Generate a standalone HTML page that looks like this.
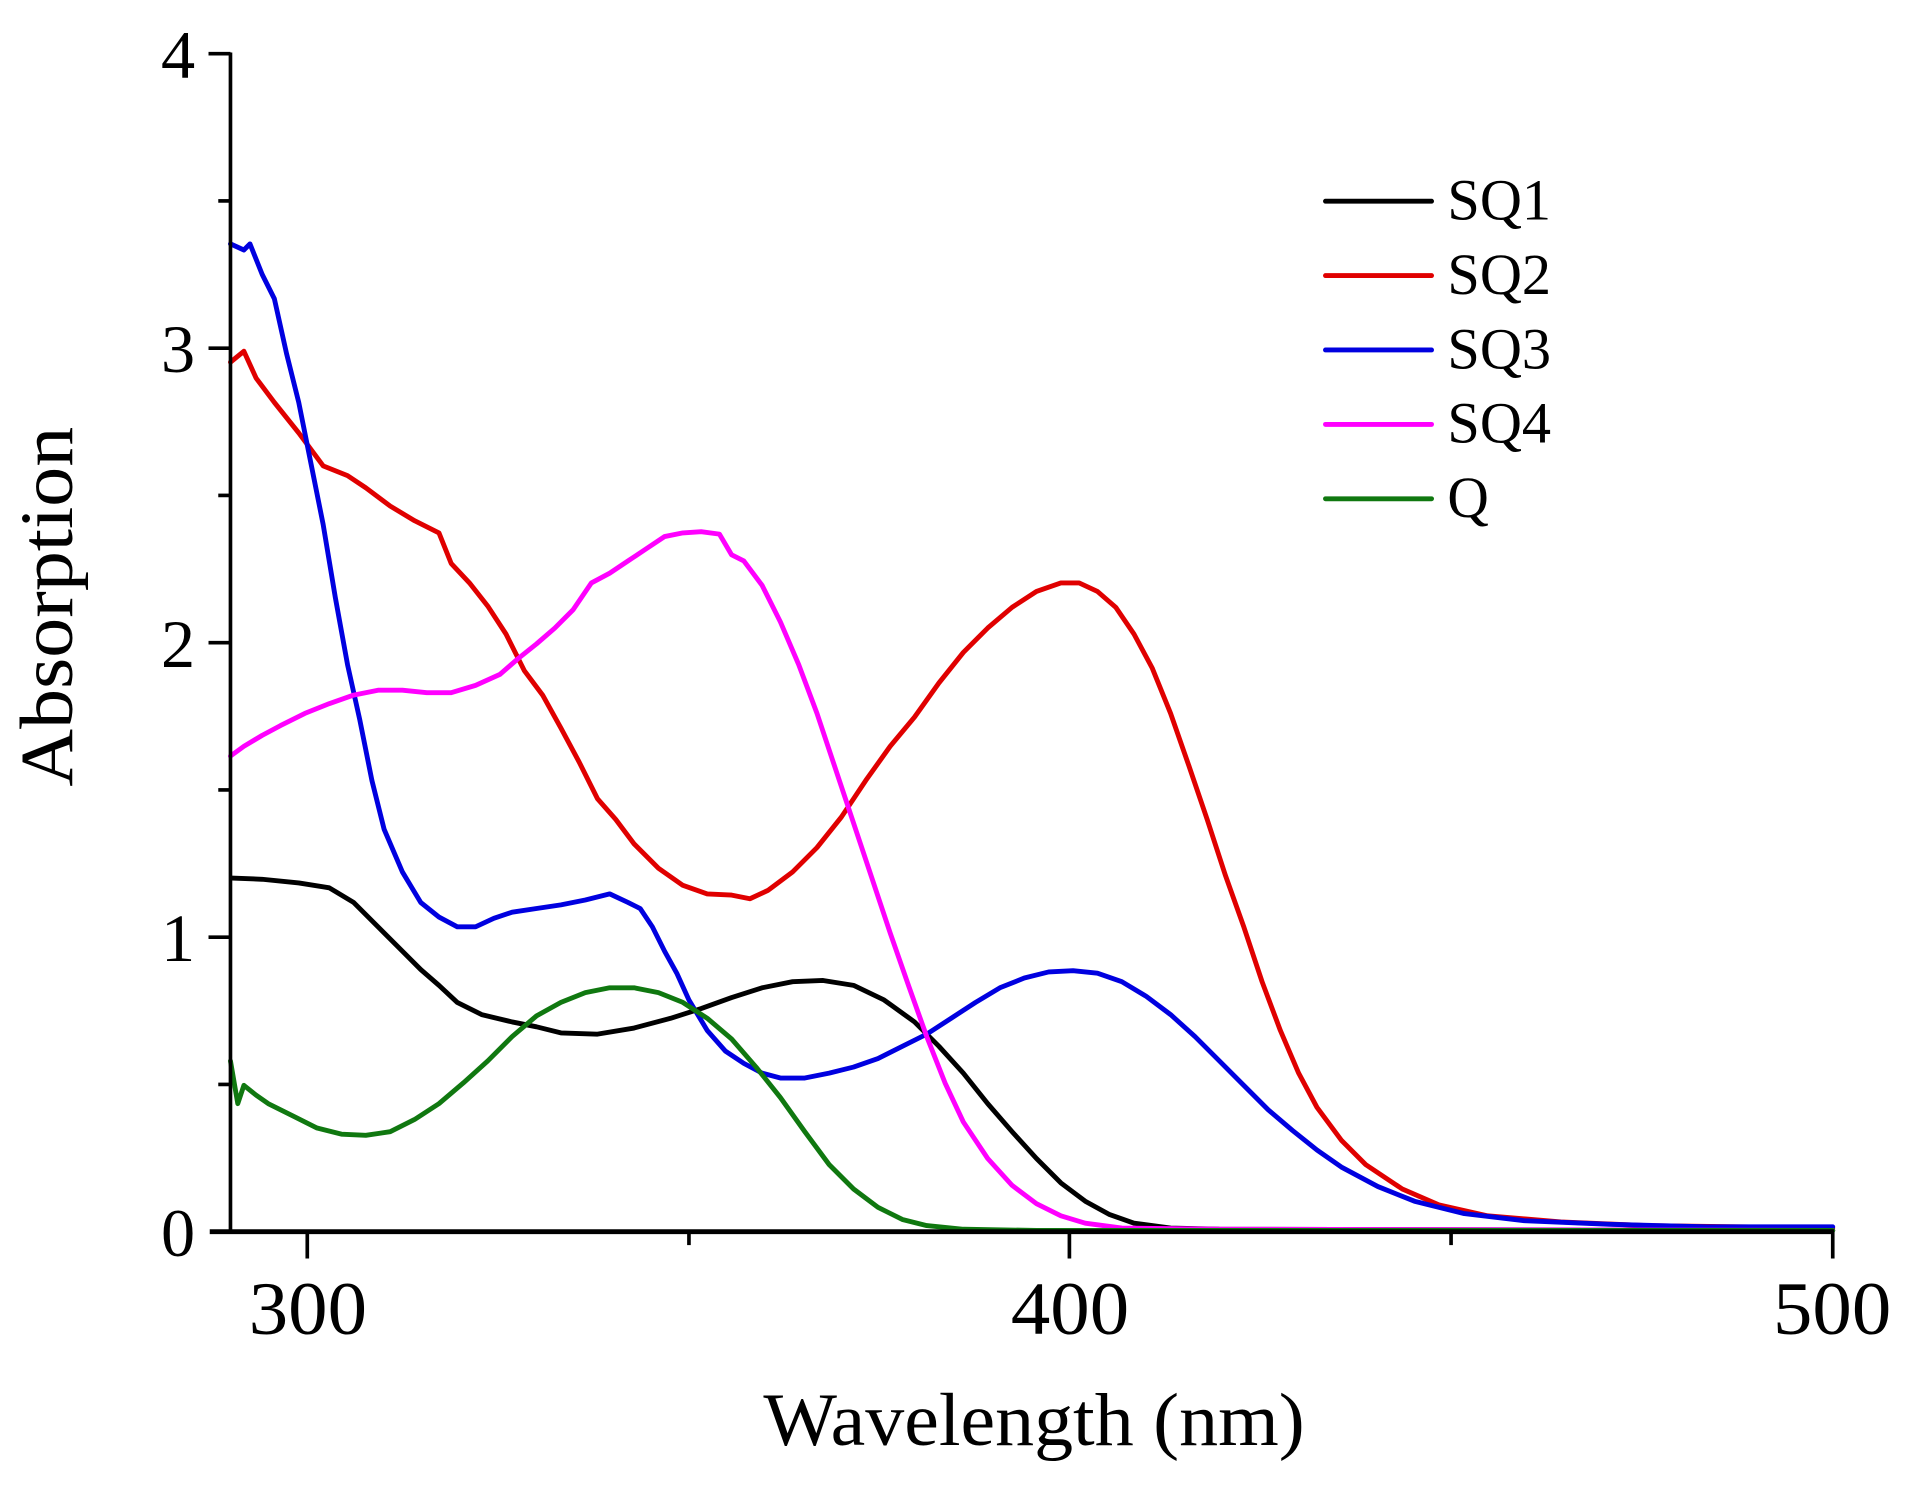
<!DOCTYPE html>
<html><head><meta charset="utf-8"><style>html,body{margin:0;padding:0;background:#fff}svg{display:block}</style></head><body>
<svg width="1912" height="1489" viewBox="0 0 1568 1221" preserveAspectRatio="none" xmlns="http://www.w3.org/2000/svg" font-family="Liberation Serif, serif">
<rect width="1568" height="1221" fill="#fff"/>
<g fill="none" stroke-width="4" stroke-linejoin="round" stroke-linecap="round">
<polyline stroke="#000" points="190,720 215,721 245,724 270,728 290,740 310,760 330,780 345,795 360,808 375,822 395,832 420,838 440,842 460,847 490,848 520,843 550,835 575,827 600,818 625,810 650,805 675,804 700,808 725,820 750,838 770,858 790,880 810,905 830,928 850,950 870,970 890,985 910,996 930,1003 960,1007 1000,1008 1503,1009"/>
<polyline stroke="#e00000" points="189,297 200,288 210,310 225,330 245,355 265,382 285,390 300,400 320,415 340,427 360,437 370,462 385,478 400,497 415,520 430,550 445,570 460,597 475,625 490,655 505,672 520,692 540,712 560,726 580,733 600,734 615,737 630,730 650,715 670,695 690,670 710,640 730,612 750,588 770,560 790,535 810,515 830,498 850,485 870,478 885,478 900,485 915,498 930,520 945,548 960,585 975,628 990,672 1005,718 1020,760 1035,805 1050,845 1065,880 1080,908 1100,935 1120,955 1150,975 1180,988 1220,997 1280,1002 1350,1005 1503,1007"/>
<polyline stroke="#0000e0" points="189,200 200,205 205,200 215,225 225,245 235,290 245,330 255,380 265,430 275,490 285,545 295,590 305,640 315,680 330,715 345,740 360,752 375,760 390,760 405,753 420,748 440,745 460,742 480,738 500,733 515,740 525,745 535,760 545,780 555,798 565,820 580,845 595,862 610,872 625,880 640,884 660,884 680,880 700,875 720,868 740,858 760,848 780,835 800,822 820,810 840,802 860,797 880,796 900,798 920,805 940,817 960,832 980,850 1000,870 1020,890 1040,910 1060,927 1080,943 1100,957 1130,973 1160,985 1200,995 1250,1001 1320,1004 1400,1006 1503,1006"/>
<polyline stroke="#ff00ff" points="189,620 200,612 215,603 230,595 250,585 270,577 290,570 310,566 330,566 350,568 370,568 390,562 410,553 425,540 440,528 455,515 470,500 485,478 500,470 515,460 530,450 545,440 560,437 575,436 590,438 600,455 610,460 625,480 640,510 655,545 670,585 685,630 700,675 715,720 730,765 745,808 760,850 775,888 790,920 810,950 830,972 850,987 870,997 890,1003 920,1007 1000,1008 1503,1009"/>
<polyline stroke="#107810" points="189,870 195,905 200,890 210,898 220,905 240,915 260,925 280,930 300,931 320,928 340,918 360,905 380,888 400,870 420,850 440,833 460,822 480,814 500,810 520,810 540,814 560,822 580,835 600,852 620,875 640,900 660,928 680,955 700,975 720,990 740,1000 760,1005 790,1008 850,1009 1503,1009"/>
</g>
<g stroke="#000" stroke-width="3">
<line x1="189" y1="43" x2="189" y2="1011"/>
<line x1="172" y1="1010" x2="1504" y2="1010" stroke-width="4"/>
<line x1="171" y1="44" x2="189" y2="44"/><line x1="171" y1="285.5" x2="189" y2="285.5"/><line x1="171" y1="527" x2="189" y2="527"/><line x1="171" y1="768.5" x2="189" y2="768.5"/>
<line x1="179" y1="164.75" x2="189" y2="164.75"/><line x1="179" y1="406.25" x2="189" y2="406.25"/><line x1="179" y1="647.75" x2="189" y2="647.75"/><line x1="179" y1="889.25" x2="189" y2="889.25"/>
<line x1="252" y1="1010" x2="252" y2="1032"/><line x1="877" y1="1010" x2="877" y2="1032"/><line x1="1503" y1="1010" x2="1503" y2="1032"/>
<line x1="565" y1="1010" x2="565" y2="1021"/><line x1="1190" y1="1010" x2="1190" y2="1021"/>
</g>
<g font-size="56" fill="#000" text-anchor="end">
<text x="160" y="64">4</text><text x="160" y="305">3</text><text x="160" y="547">2</text><text x="160" y="788">1</text><text x="160" y="1030">0</text>
</g>
<g font-size="62" fill="#000">
<text x="204" y="1094" textLength="97" lengthAdjust="spacingAndGlyphs">300</text>
<text x="829" y="1094" textLength="97" lengthAdjust="spacingAndGlyphs">400</text>
<text x="1454" y="1094" textLength="97" lengthAdjust="spacingAndGlyphs">500</text>
<text x="626" y="1185" textLength="444" lengthAdjust="spacingAndGlyphs">Wavelength (nm)</text>
<text transform="translate(59,645) rotate(-90)" textLength="295" lengthAdjust="spacingAndGlyphs">Absorption</text>
</g>
<g stroke-width="4" stroke-linecap="round">
<line x1="1087" y1="165" x2="1174" y2="165" stroke="#000"/>
<line x1="1087" y1="226" x2="1174" y2="226" stroke="#e00000"/>
<line x1="1087" y1="287" x2="1174" y2="287" stroke="#0000e0"/>
<line x1="1087" y1="348" x2="1174" y2="348" stroke="#ff00ff"/>
<line x1="1087" y1="409" x2="1174" y2="409" stroke="#107810"/>
</g>
<g font-size="48" fill="#000">
<text x="1187" y="180" textLength="85" lengthAdjust="spacingAndGlyphs">SQ1</text>
<text x="1187" y="241" textLength="85" lengthAdjust="spacingAndGlyphs">SQ2</text>
<text x="1187" y="302" textLength="85" lengthAdjust="spacingAndGlyphs">SQ3</text>
<text x="1187" y="363" textLength="85" lengthAdjust="spacingAndGlyphs">SQ4</text>
<text x="1187" y="424" textLength="34" lengthAdjust="spacingAndGlyphs">Q</text>
</g>
</svg>
</body></html>
